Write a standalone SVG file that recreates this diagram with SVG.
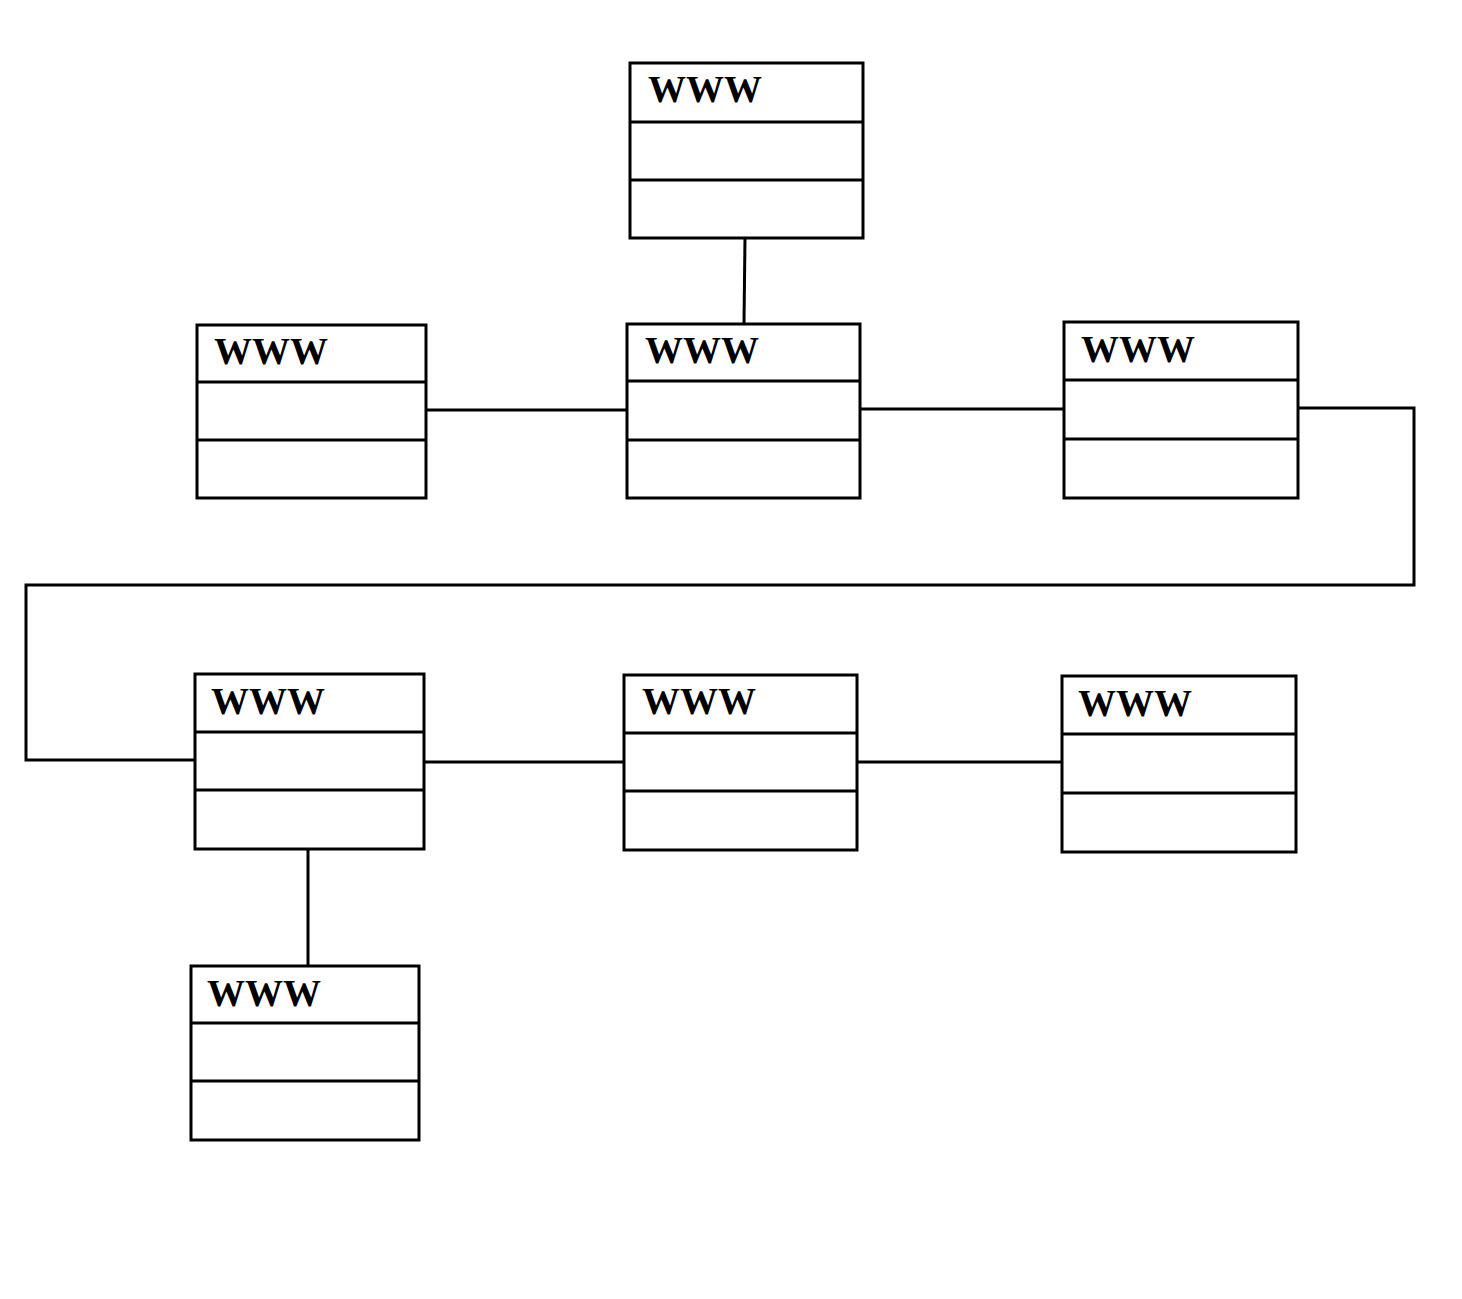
<svg xmlns="http://www.w3.org/2000/svg" width="1462" height="1299" viewBox="0 0 1462 1299">
<style>
.box{fill:#fff;stroke:#000;stroke-width:3}
.div{stroke:#000;stroke-width:3}
.lbl{font-family:"Liberation Serif","Times New Roman",serif;font-size:38px;font-weight:bold;fill:#000}
.con{fill:none;stroke:#000;stroke-width:3}
</style>
<rect width="1462" height="1299" fill="#fff"/>
<g id="connectors">
<line class="con" x1="745" y1="238" x2="744" y2="323"/>
<line class="con" x1="426" y1="410" x2="627" y2="410"/>
<line class="con" x1="860" y1="409" x2="1064" y2="409"/>
<polyline class="con" points="1298,408 1414,408 1414,585 26,585 26,760 194,760"/>
<line class="con" x1="424" y1="762" x2="624" y2="762"/>
<line class="con" x1="857" y1="762" x2="1062" y2="762"/>
<line class="con" x1="308" y1="849" x2="308" y2="966"/>
</g>
<g id="n1"><rect class="box" x="630" y="63" width="233" height="175"/><line class="div" x1="630" y1="122" x2="863" y2="122"/><line class="div" x1="630" y1="180" x2="863" y2="180"/><text class="lbl" x="648" y="102">WWW</text></g>
<g id="n2"><rect class="box" x="197" y="325" width="229" height="173"/><line class="div" x1="197" y1="382" x2="426" y2="382"/><line class="div" x1="197" y1="440" x2="426" y2="440"/><text class="lbl" x="214" y="364">WWW</text></g>
<g id="n3"><rect class="box" x="627" y="324" width="233" height="174"/><line class="div" x1="627" y1="381" x2="860" y2="381"/><line class="div" x1="627" y1="440" x2="860" y2="440"/><text class="lbl" x="645" y="363">WWW</text></g>
<g id="n4"><rect class="box" x="1064" y="322" width="234" height="176"/><line class="div" x1="1064" y1="380" x2="1298" y2="380"/><line class="div" x1="1064" y1="439" x2="1298" y2="439"/><text class="lbl" x="1081" y="362">WWW</text></g>
<g id="n5"><rect class="box" x="195" y="674" width="229" height="175"/><line class="div" x1="195" y1="732" x2="424" y2="732"/><line class="div" x1="195" y1="790" x2="424" y2="790"/><text class="lbl" x="211" y="714">WWW</text></g>
<g id="n6"><rect class="box" x="624" y="675" width="233" height="175"/><line class="div" x1="624" y1="733" x2="857" y2="733"/><line class="div" x1="624" y1="791" x2="857" y2="791"/><text class="lbl" x="642" y="714">WWW</text></g>
<g id="n7"><rect class="box" x="1062" y="676" width="234" height="176"/><line class="div" x1="1062" y1="734" x2="1296" y2="734"/><line class="div" x1="1062" y1="793" x2="1296" y2="793"/><text class="lbl" x="1078" y="716">WWW</text></g>
<g id="n8"><rect class="box" x="191" y="966" width="228" height="174"/><line class="div" x1="191" y1="1023" x2="419" y2="1023"/><line class="div" x1="191" y1="1081" x2="419" y2="1081"/><text class="lbl" x="207" y="1006">WWW</text></g>
</svg>
